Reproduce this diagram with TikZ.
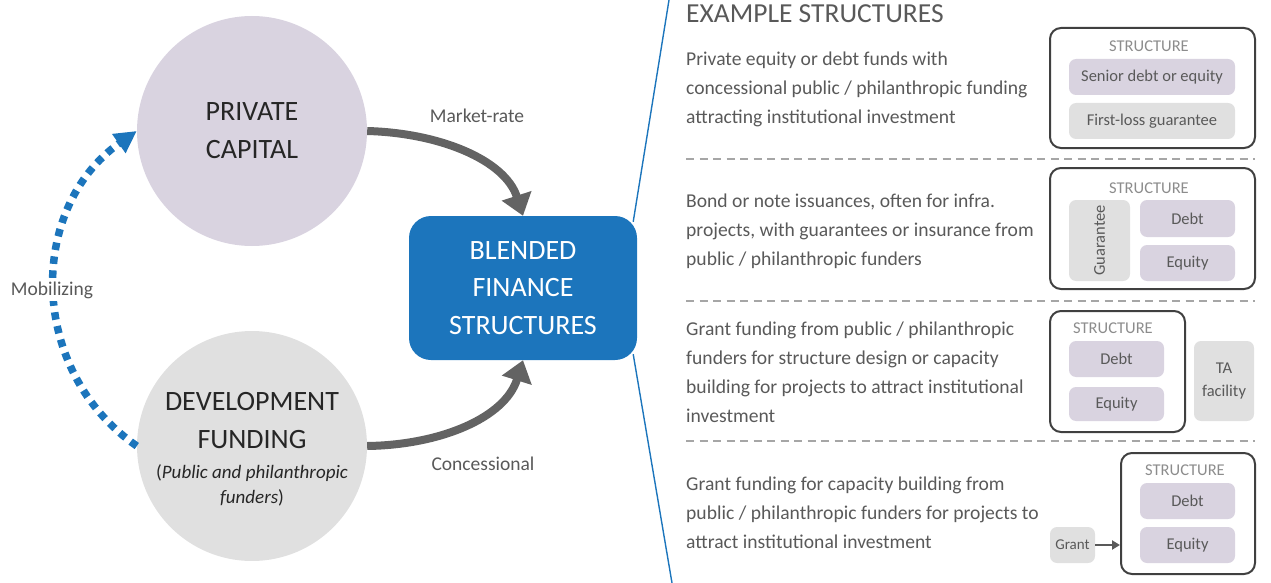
\documentclass[tikz,border=0pt]{standalone}
\usepackage{fontspec}
\setmainfont{Carlito}
\usetikzlibrary{arrows.meta,calc}
\pgfdeclarelayer{bg}
\pgfsetlayers{bg,main}
\definecolor{privfill}{HTML}{D9D3E0}
\definecolor{devfill}{HTML}{E0E0E0}
\definecolor{blendblue}{HTML}{1C75BC}
\definecolor{arrgray}{HTML}{636363}
\definecolor{txtgray}{HTML}{595959}
\definecolor{darktxt}{HTML}{262626}
\definecolor{lbl}{HTML}{8C8C8C}
\definecolor{boxedge}{HTML}{404040}
\definecolor{dashgray}{HTML}{A6A6A6}
\begin{document}
\begin{tikzpicture}[x=1pt,y=-1pt,
  circ/.style={circle, minimum size=230pt, inner sep=0pt},
  bigtxt/.style={font=\fontsize{28}{38}\selectfont, align=center, inner sep=0pt},
  flowarrow/.style={draw=arrgray, line width=8pt, -{Triangle[length=21pt,width=30pt]}},
  edgelabel/.style={font=\fontsize{19.5}{22}\selectfont, text=txtgray, inner sep=1pt},
  body/.style={font=\fontsize{19.6}{29}\selectfont, text=txtgray, align=left, inner sep=0pt, anchor=west},
  structbox/.style={draw=boxedge, line width=2pt, rounded corners=11pt, inner sep=0pt},
  purplebox/.style={fill=privfill, rounded corners=7pt, inner sep=0pt, font=\fontsize{16.5}{19}\selectfont, text=txtgray, align=center},
  graybox/.style={fill=devfill, rounded corners=7pt, inner sep=0pt, font=\fontsize{16.5}{23}\selectfont, text=txtgray, align=center},
  structlabel/.style={font=\fontsize{16.5}{18}\selectfont, text=lbl, inner sep=0pt},
  sep/.style={draw=dashgray, line width=1.5pt, dash pattern=on 8pt off 5.5pt}
]
\useasboundingbox (0,0) rectangle (1271,583);

% left circles
\node[circ, fill=privfill, bigtxt, text=darktxt] (priv) at (252,131) {PRIVATE\\CAPITAL};
\node[circ, fill=devfill] (dev) at (252,446) {};
\node[bigtxt, text=darktxt] (devtxt) at (252,421) {DEVELOPMENT\\FUNDING};
\node[font=\fontsize{19}{25}\selectfont, align=center, inner sep=0pt, text=darktxt] (devsub) at (252,485) {(\textit{Public and philanthropic}\\\textit{funders})};

% blended box
\node[fill=blendblue, rounded corners=22pt, minimum width=228pt, minimum height=144pt, inner sep=0pt,
      font=\fontsize{28}{37.5}\selectfont, text=white, align=center] (blend) at (523,288) {BLENDED\\FINANCE\\STRUCTURES};

% blue bracket lines
\coordinate (ltop) at (669,0);
\coordinate (lbot) at (672,583);
\begin{pgfonlayer}{bg}
\draw[blendblue, line width=1.4pt] (ltop) -- ($(blend.north east)+(-4,6)$);
\draw[blendblue, line width=1.4pt] ($(blend.south east)+(-4,-6)$) -- (lbot);
\end{pgfonlayer}

% flow arrows
\draw[flowarrow] (priv.east) .. controls (440,133) and (505,160) .. (blend.north);
\draw[flowarrow] (dev.east) .. controls (440,445) and (505,418) .. (blend.south);
\node[edgelabel] (mr) at (477,116) {Market-rate};
\node[edgelabel] (cc) at (483,464) {Concessional};

% mobilizing arc
\draw[blendblue, line width=7.5pt, dash pattern=on 7.5pt off 6.5pt, -{Triangle[length=22pt,width=22pt]}]
  (dev.west) .. controls (28,371) and (27,208) .. (priv.west);
\node[edgelabel, fill=white, inner sep=3pt] (mob) at (52,290) {Mobilizing};

% right panel
\node[font=\fontsize{27.5}{30}\selectfont, text=txtgray, inner sep=0pt, anchor=west] (head) at (686,14) {EXAMPLE STRUCTURES};

\node[body] (t1) at (686,89) {Private equity or debt funds with\\concessional public / philanthropic funding\\attracting institutional investment};
\node[body] (t2) at (686,231) {Bond or note issuances, often for infra.\\projects, with guarantees or insurance from\\public / philanthropic funders};
\node[body] (t3) at (686,372) {Grant funding from public / philanthropic\\funders for structure design or capacity\\building for projects to attract institutional\\investment};
\node[body] (t4) at (686,513) {Grant funding for capacity building from\\public / philanthropic funders for projects to\\attract institutional investment};

\coordinate (s1a) at (686,159); \coordinate (s1b) at (1255,159);
\coordinate (s2a) at (686,301); \coordinate (s2b) at (1255,301);
\coordinate (s3a) at (686,441); \coordinate (s3b) at (1255,441);
\draw[sep] (s1a) -- (s1b);
\draw[sep] (s2a) -- (s2b);
\draw[sep] (s3a) -- (s3b);

% structure 1
\node[structbox, minimum width=205pt, minimum height=120pt] (b1) at (1152.5,88) {};
\node[structlabel] (l1) at (1149,46) {STRUCTURE};
\node[purplebox, minimum width=166pt, minimum height=36pt] (senior) at (1152,77) {Senior debt or equity};
\node[graybox, minimum width=166pt, minimum height=36pt] (firstloss) at (1152,121) {First-loss guarantee};

% structure 2
\node[structbox, minimum width=205pt, minimum height=121pt] (b2) at (1152.5,228.5) {};
\node[structlabel] (l2) at (1149,188) {STRUCTURE};
\node[graybox, minimum width=61pt, minimum height=81pt] (guar) at (1099.5,240.5) {};
\node[font=\fontsize{16.5}{19}\selectfont, text=txtgray, rotate=90, inner sep=0pt] (guartxt) at (guar) {Guarantee};
\node[purplebox, minimum width=95pt, minimum height=37pt] (debt2) at (1187.5,218.5) {Debt};
\node[purplebox, minimum width=95pt, minimum height=36pt] (eq2) at (1187.5,263) {Equity};

% structure 3
\node[structbox, minimum width=135pt, minimum height=121pt] (b3) at (1117.5,371.5) {};
\node[structlabel] (l3) at (1113,328) {STRUCTURE};
\node[purplebox, minimum width=95pt, minimum height=36pt] (debt3) at (1116.5,359) {Debt};
\node[purplebox, minimum width=95pt, minimum height=34pt] (eq3) at (1116.5,404) {Equity};
\node[graybox, minimum width=60pt, minimum height=80pt] (ta) at (1224,381) {TA\\facility};

% structure 4
\node[structbox, minimum width=134pt, minimum height=121pt] (b4) at (1188,513.5) {};
\node[structlabel] (l4) at (1185,470) {STRUCTURE};
\node[purplebox, minimum width=95pt, minimum height=36pt] (debt4) at (1187.5,501) {Debt};
\node[purplebox, minimum width=95pt, minimum height=36pt] (eq4) at (1187.5,545) {Equity};
\node[graybox, font=\fontsize{15}{18}\selectfont, minimum width=45pt, minimum height=36pt] (grant) at (1072.5,545) {Grant};
\draw[txtgray, line width=2pt, -{Triangle[length=8pt,width=9pt]}] (grant.east) -- (b4.west |- grant.east);

\end{tikzpicture}
\end{document}
